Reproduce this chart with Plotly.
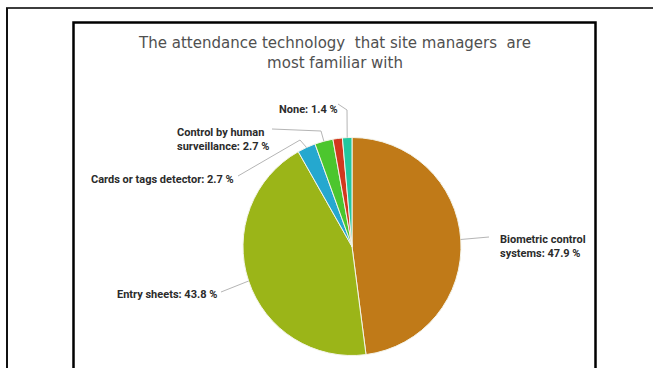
import math
import plotly.graph_objects as go

# ---- data ----
categories = ["Biometric control systems", "Entry sheets", "Cards or tags detector",
              "Control by human surveillance", "Other", "None"]
values = [47.9, 43.8, 2.7, 2.7, 1.4, 1.4]
label_text = ["Biometric control<br>systems", "Entry sheets", "Cards or tags detector",
              "Control by human<br>surveillance", None, "None"]
colors = ["#c07a18", "#9bb518", "#25a8cf", "#4cc62e", "#d2381e", "#22c89f"]
title_text = "The attendance technology  that site managers  are<br>most familiar with"

W, H = 653, 368
CX, CY, R = 352, 246.5, 109


def px(x):
    return x / W


def py(y):
    return 1 - y / H


fig = go.Figure()
fig.add_trace(go.Pie(
    labels=categories, values=values, sort=False, direction="clockwise", rotation=0,
    textinfo="none", hoverinfo="label+percent", showlegend=False,
    marker=dict(colors=colors, line=dict(color="#f4f4ea", width=1)),
    domain=dict(x=[px(CX - R), px(CX + R)], y=[py(CY + R), py(CY - R)]),
))

# slice edge points computed from data
total = sum(values)
edge = []
cum = 0
for v in values:
    mid = (cum + v / 2) / total * 2 * math.pi
    edge.append((CX + R * math.sin(mid), CY - R * math.cos(mid)))
    cum += v

# label placement (layout): (x_left, y_center, leader path points before the edge point)
placements = {
    0: (498, 246.5, [(489, 237)]),
    1: (115, 294, [(221, 292)]),
    2: (89, 179, [(238, 176), (300, 140)]),
    3: (175, 139, [(272, 129), (321, 131)]),
    5: (277, 109, [(338, 104), (347, 110)]),
}

shapes = []
annotations = []
for i, (lx, ly, pts) in placements.items():
    pct = f"{values[i]:.1f} %"
    annotations.append(dict(
        x=px(lx), y=py(ly), xref="paper", yref="paper", xanchor="left", yanchor="middle",
        text=f"{label_text[i]}: {pct}", showarrow=False, align="left",
        font=dict(family="Roboto", size=11, color="#2b2b2b", weight="bold"),
    ))
    path = pts + [edge[i]] if i != 0 else [edge[i]] + pts
    for (x0, y0), (x1, y1) in zip(path[:-1], path[1:]):
        shapes.append(dict(type="line", xref="paper", yref="paper",
                           x0=px(x0), y0=py(y0), x1=px(x1), y1=py(y1),
                           line=dict(color="#b5b5b5", width=1)))

# frames
shapes.append(dict(type="line", xref="paper", yref="paper", x0=px(6), x1=px(653),
                   y0=py(8), y1=py(8), line=dict(color="#3c3c3c", width=2)))
shapes.append(dict(type="line", xref="paper", yref="paper", x0=px(7), x1=px(7),
                   y0=py(8), y1=py(372), line=dict(color="#111111", width=2)))
shapes.append(dict(type="rect", xref="paper", yref="paper", x0=px(73.5), x1=px(595.5),
                   y0=py(22.5), y1=py(385), line=dict(color="#000000", width=2.5)))

fig.update_layout(
    width=W, height=H, margin=dict(l=0, r=0, t=0, b=0),
    paper_bgcolor="white", plot_bgcolor="white",
    title=dict(text=title_text, x=px(335), xanchor="center", y=py(48), yanchor="middle",
               yref="container",
               font=dict(family="DejaVu Sans", size=15, color="#505050")),
    shapes=shapes, annotations=annotations,
)

fig.write_html("out.html", config={"displayModeBar": False},
               post_script="document.body.style.margin='0';")
